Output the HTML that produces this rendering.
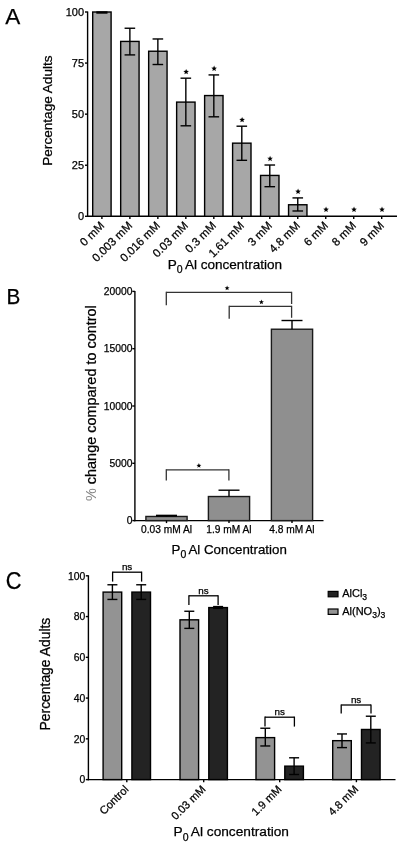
<!DOCTYPE html>
<html><head><meta charset="utf-8"><style>
html,body{margin:0;padding:0;background:#fff;}
svg{display:block;filter:grayscale(0);}
text{font-family:"Liberation Sans", sans-serif;fill:#000;stroke:#000;stroke-width:0.25px;}
</style></head><body>
<svg width="400" height="847" viewBox="0 0 400 847">
<rect width="400" height="847" fill="#fff"/>
<text x="5.30" y="24.30" font-size="22.5" text-anchor="start" >A</text>
<line x1="87.60" y1="11.50" x2="87.60" y2="217.00" stroke="#000" stroke-width="1.4"/>
<line x1="85.00" y1="216.30" x2="87.60" y2="216.30" stroke="#000" stroke-width="1.4"/>
<text x="84.10" y="220.10" font-size="11" text-anchor="end" >0</text>
<line x1="85.00" y1="165.23" x2="87.60" y2="165.23" stroke="#000" stroke-width="1.4"/>
<text x="84.10" y="169.03" font-size="11" text-anchor="end" >25</text>
<line x1="85.00" y1="114.15" x2="87.60" y2="114.15" stroke="#000" stroke-width="1.4"/>
<text x="84.10" y="117.95" font-size="11" text-anchor="end" >50</text>
<line x1="85.00" y1="63.07" x2="87.60" y2="63.07" stroke="#000" stroke-width="1.4"/>
<text x="84.10" y="66.87" font-size="11" text-anchor="end" >75</text>
<line x1="85.00" y1="12.00" x2="87.60" y2="12.00" stroke="#000" stroke-width="1.4"/>
<text x="84.10" y="15.80" font-size="11" text-anchor="end" >100</text>
<line x1="86.90" y1="216.30" x2="397.00" y2="216.30" stroke="#000" stroke-width="1.4"/>
<rect x="92.70" y="12.00" width="18.40" height="204.30" fill="#a7a7a7" stroke="#000" stroke-width="1.4"/>
<line x1="96.30" y1="12.50" x2="107.50" y2="12.50" stroke="#000" stroke-width="2.4"/>
<line x1="101.90" y1="216.30" x2="101.90" y2="219.10" stroke="#000" stroke-width="1.4"/>
<text transform="translate(102.10,223.50) rotate(-45)" font-size="11.5" text-anchor="end" dominant-baseline="central">0 mM</text>
<rect x="120.68" y="41.42" width="18.40" height="174.88" fill="#a7a7a7" stroke="#000" stroke-width="1.4"/>
<line x1="129.88" y1="28.24" x2="129.88" y2="54.90" stroke="#000" stroke-width="1.4"/>
<line x1="124.58" y1="28.24" x2="135.18" y2="28.24" stroke="#000" stroke-width="1.4"/>
<line x1="124.58" y1="54.90" x2="135.18" y2="54.90" stroke="#000" stroke-width="1.4"/>
<line x1="129.88" y1="216.30" x2="129.88" y2="219.10" stroke="#000" stroke-width="1.4"/>
<text transform="translate(130.08,223.50) rotate(-45)" font-size="11.5" text-anchor="end" dominant-baseline="central">0.003 mM</text>
<rect x="148.66" y="51.23" width="18.40" height="165.07" fill="#a7a7a7" stroke="#000" stroke-width="1.4"/>
<line x1="157.86" y1="38.97" x2="157.86" y2="64.51" stroke="#000" stroke-width="1.4"/>
<line x1="152.56" y1="38.97" x2="163.16" y2="38.97" stroke="#000" stroke-width="1.4"/>
<line x1="152.56" y1="64.51" x2="163.16" y2="64.51" stroke="#000" stroke-width="1.4"/>
<line x1="157.86" y1="216.30" x2="157.86" y2="219.10" stroke="#000" stroke-width="1.4"/>
<text transform="translate(158.06,223.50) rotate(-45)" font-size="11.5" text-anchor="end" dominant-baseline="central">0.016 mM</text>
<rect x="176.64" y="102.10" width="18.40" height="114.20" fill="#a7a7a7" stroke="#000" stroke-width="1.4"/>
<line x1="185.84" y1="78.19" x2="185.84" y2="125.80" stroke="#000" stroke-width="1.4"/>
<line x1="180.54" y1="78.19" x2="191.14" y2="78.19" stroke="#000" stroke-width="1.4"/>
<line x1="180.54" y1="125.80" x2="191.14" y2="125.80" stroke="#000" stroke-width="1.4"/>
<line x1="185.84" y1="216.30" x2="185.84" y2="219.10" stroke="#000" stroke-width="1.4"/>
<polygon points="186.14,68.89 186.90,70.84 188.99,70.97 187.38,72.29 187.90,74.32 186.14,73.19 184.38,74.32 184.90,72.29 183.29,70.97 185.38,70.84" fill="#000"/>
<text transform="translate(186.04,223.50) rotate(-45)" font-size="11.5" text-anchor="end" dominant-baseline="central">0.03 mM</text>
<rect x="204.62" y="95.56" width="18.40" height="120.74" fill="#a7a7a7" stroke="#000" stroke-width="1.4"/>
<line x1="213.82" y1="74.92" x2="213.82" y2="116.81" stroke="#000" stroke-width="1.4"/>
<line x1="208.52" y1="74.92" x2="219.12" y2="74.92" stroke="#000" stroke-width="1.4"/>
<line x1="208.52" y1="116.81" x2="219.12" y2="116.81" stroke="#000" stroke-width="1.4"/>
<line x1="213.82" y1="216.30" x2="213.82" y2="219.10" stroke="#000" stroke-width="1.4"/>
<polygon points="214.12,65.62 214.88,67.57 216.97,67.70 215.36,69.03 215.88,71.05 214.12,69.92 212.36,71.05 212.88,69.03 211.27,67.70 213.36,67.57" fill="#000"/>
<text transform="translate(214.02,223.50) rotate(-45)" font-size="11.5" text-anchor="end" dominant-baseline="central">0.3 mM</text>
<rect x="232.60" y="143.16" width="18.40" height="73.14" fill="#a7a7a7" stroke="#000" stroke-width="1.4"/>
<line x1="241.80" y1="126.20" x2="241.80" y2="160.32" stroke="#000" stroke-width="1.4"/>
<line x1="236.50" y1="126.20" x2="247.10" y2="126.20" stroke="#000" stroke-width="1.4"/>
<line x1="236.50" y1="160.32" x2="247.10" y2="160.32" stroke="#000" stroke-width="1.4"/>
<line x1="241.80" y1="216.30" x2="241.80" y2="219.10" stroke="#000" stroke-width="1.4"/>
<polygon points="242.10,116.90 242.86,118.85 244.95,118.98 243.34,120.31 243.86,122.33 242.10,121.20 240.34,122.33 240.86,120.31 239.25,118.98 241.34,118.85" fill="#000"/>
<text transform="translate(242.00,223.50) rotate(-45)" font-size="11.5" text-anchor="end" dominant-baseline="central">1.61 mM</text>
<rect x="260.58" y="175.44" width="18.40" height="40.86" fill="#a7a7a7" stroke="#000" stroke-width="1.4"/>
<line x1="269.78" y1="165.02" x2="269.78" y2="186.68" stroke="#000" stroke-width="1.4"/>
<line x1="264.48" y1="165.02" x2="275.08" y2="165.02" stroke="#000" stroke-width="1.4"/>
<line x1="264.48" y1="186.68" x2="275.08" y2="186.68" stroke="#000" stroke-width="1.4"/>
<line x1="269.78" y1="216.30" x2="269.78" y2="219.10" stroke="#000" stroke-width="1.4"/>
<polygon points="270.08,155.72 270.84,157.67 272.93,157.79 271.32,159.12 271.84,161.15 270.08,160.02 268.32,161.15 268.84,159.12 267.23,157.79 269.32,157.67" fill="#000"/>
<text transform="translate(269.98,223.50) rotate(-45)" font-size="11.5" text-anchor="end" dominant-baseline="central">3 mM</text>
<rect x="288.56" y="204.76" width="18.40" height="11.54" fill="#a7a7a7" stroke="#000" stroke-width="1.4"/>
<line x1="297.76" y1="197.91" x2="297.76" y2="210.99" stroke="#000" stroke-width="1.4"/>
<line x1="292.46" y1="197.91" x2="303.06" y2="197.91" stroke="#000" stroke-width="1.4"/>
<line x1="292.46" y1="210.99" x2="303.06" y2="210.99" stroke="#000" stroke-width="1.4"/>
<line x1="297.76" y1="216.30" x2="297.76" y2="219.10" stroke="#000" stroke-width="1.4"/>
<polygon points="298.06,188.61 298.82,190.56 300.91,190.69 299.30,192.01 299.82,194.04 298.06,192.91 296.30,194.04 296.82,192.01 295.21,190.69 297.30,190.56" fill="#000"/>
<text transform="translate(297.96,223.50) rotate(-45)" font-size="11.5" text-anchor="end" dominant-baseline="central">4.8 mM</text>
<line x1="325.74" y1="216.30" x2="325.74" y2="219.10" stroke="#000" stroke-width="1.4"/>
<polygon points="326.04,206.60 326.80,208.55 328.89,208.67 327.28,210.00 327.80,212.03 326.04,210.90 324.28,212.03 324.80,210.00 323.19,208.67 325.28,208.55" fill="#000"/>
<text transform="translate(325.94,223.50) rotate(-45)" font-size="11.5" text-anchor="end" dominant-baseline="central">6 mM</text>
<line x1="353.72" y1="216.30" x2="353.72" y2="219.10" stroke="#000" stroke-width="1.4"/>
<polygon points="354.02,206.60 354.78,208.55 356.87,208.67 355.26,210.00 355.78,212.03 354.02,210.90 352.26,212.03 352.78,210.00 351.17,208.67 353.26,208.55" fill="#000"/>
<text transform="translate(353.92,223.50) rotate(-45)" font-size="11.5" text-anchor="end" dominant-baseline="central">8 mM</text>
<line x1="381.70" y1="216.30" x2="381.70" y2="219.10" stroke="#000" stroke-width="1.4"/>
<polygon points="382.00,206.60 382.76,208.55 384.85,208.67 383.24,210.00 383.76,212.03 382.00,210.90 380.24,212.03 380.76,210.00 379.15,208.67 381.24,208.55" fill="#000"/>
<text transform="translate(381.90,223.50) rotate(-45)" font-size="11.5" text-anchor="end" dominant-baseline="central">9 mM</text>
<text x="167.80" y="269.30" font-size="13.55" text-anchor="start" >P<tspan font-size="10.5" dy="4.1">0</tspan><tspan dy="-4.1" dx="-0.8"> Al concentration</tspan></text>
<text transform="translate(52.0,110.6) rotate(-90)" font-size="13.6" text-anchor="middle">Percentage Adults</text>
<text x="6.40" y="303.60" font-size="22.5" text-anchor="start" textLength="13.8" lengthAdjust="spacingAndGlyphs">B</text>
<line x1="134.90" y1="290.90" x2="134.90" y2="521.30" stroke="#000" stroke-width="1.4"/>
<line x1="132.30" y1="520.60" x2="134.90" y2="520.60" stroke="#000" stroke-width="1.4"/>
<text x="132.40" y="524.10" font-size="10.3" text-anchor="end" >0</text>
<line x1="132.30" y1="463.30" x2="134.90" y2="463.30" stroke="#000" stroke-width="1.4"/>
<text x="132.40" y="466.80" font-size="10.3" text-anchor="end" >5000</text>
<line x1="132.30" y1="406.00" x2="134.90" y2="406.00" stroke="#000" stroke-width="1.4"/>
<text x="132.40" y="409.50" font-size="10.3" text-anchor="end" >10000</text>
<line x1="132.30" y1="348.70" x2="134.90" y2="348.70" stroke="#000" stroke-width="1.4"/>
<text x="132.40" y="352.20" font-size="10.3" text-anchor="end" >15000</text>
<line x1="132.30" y1="291.40" x2="134.90" y2="291.40" stroke="#000" stroke-width="1.4"/>
<text x="132.40" y="294.90" font-size="10.3" text-anchor="end" >20000</text>
<line x1="134.20" y1="520.60" x2="323.50" y2="520.60" stroke="#000" stroke-width="1.4"/>
<rect x="145.90" y="516.47" width="41.20" height="4.13" fill="#8f8f8f" stroke="#1a1a1a" stroke-width="1.4"/>
<line x1="166.50" y1="515.67" x2="166.50" y2="516.47" stroke="#000" stroke-width="1.4"/>
<line x1="156.00" y1="515.67" x2="177.00" y2="515.67" stroke="#000" stroke-width="2.0"/>
<line x1="166.50" y1="520.60" x2="166.50" y2="523.10" stroke="#000" stroke-width="1.4"/>
<text x="166.50" y="533.00" font-size="10.2" text-anchor="middle" >0.03 mM Al</text>
<rect x="208.40" y="496.53" width="41.20" height="24.07" fill="#8f8f8f" stroke="#1a1a1a" stroke-width="1.4"/>
<line x1="229.00" y1="490.20" x2="229.00" y2="496.53" stroke="#000" stroke-width="1.4"/>
<line x1="218.50" y1="490.20" x2="239.50" y2="490.20" stroke="#000" stroke-width="1.4"/>
<line x1="229.00" y1="520.60" x2="229.00" y2="523.10" stroke="#000" stroke-width="1.4"/>
<text x="229.00" y="533.00" font-size="10.2" text-anchor="middle" >1.9 mM Al</text>
<rect x="271.40" y="329.22" width="41.20" height="191.38" fill="#8f8f8f" stroke="#1a1a1a" stroke-width="1.4"/>
<line x1="292.00" y1="320.51" x2="292.00" y2="329.22" stroke="#000" stroke-width="1.4"/>
<line x1="281.50" y1="320.51" x2="302.50" y2="320.51" stroke="#000" stroke-width="1.4"/>
<line x1="292.00" y1="520.60" x2="292.00" y2="523.10" stroke="#000" stroke-width="1.4"/>
<text x="292.00" y="533.00" font-size="10.2" text-anchor="middle" >4.8 mM Al</text>
<line x1="166.30" y1="292.40" x2="291.60" y2="292.40" stroke="#333" stroke-width="1.3"/>
<line x1="166.30" y1="291.80" x2="166.30" y2="305.20" stroke="#333" stroke-width="1.3"/>
<line x1="291.60" y1="291.80" x2="291.60" y2="304.00" stroke="#333" stroke-width="1.3"/>
<line x1="229.20" y1="306.40" x2="291.60" y2="306.40" stroke="#333" stroke-width="1.3"/>
<line x1="229.20" y1="305.80" x2="229.20" y2="318.70" stroke="#333" stroke-width="1.3"/>
<line x1="291.60" y1="305.80" x2="291.60" y2="317.80" stroke="#333" stroke-width="1.3"/>
<line x1="166.30" y1="469.80" x2="228.90" y2="469.80" stroke="#333" stroke-width="1.3"/>
<line x1="166.30" y1="469.20" x2="166.30" y2="480.40" stroke="#333" stroke-width="1.3"/>
<line x1="228.90" y1="469.20" x2="228.90" y2="480.40" stroke="#333" stroke-width="1.3"/>
<polygon points="227.10,285.60 227.75,287.31 229.57,287.40 228.15,288.54 228.63,290.30 227.10,289.30 225.57,290.30 226.05,288.54 224.63,287.40 226.45,287.31" fill="#000"/>
<polygon points="261.40,299.50 262.05,301.21 263.87,301.30 262.45,302.44 262.93,304.20 261.40,303.20 259.87,304.20 260.35,302.44 258.93,301.30 260.75,301.21" fill="#000"/>
<polygon points="198.90,463.10 199.55,464.81 201.37,464.90 199.95,466.04 200.43,467.80 198.90,466.80 197.37,467.80 197.85,466.04 196.43,464.90 198.25,464.81" fill="#000"/>
<text x="171.60" y="553.80" font-size="13.3" text-anchor="start" >P<tspan font-size="10.5" dy="4.1">0</tspan><tspan dy="-4.1" dx="-0.8"> Al Concentration</tspan></text>
<text transform="translate(96.3,403.1) rotate(-90)" font-size="14.45" text-anchor="middle"><tspan fill="#888" stroke="none">%</tspan> change compared to control</text>
<text x="5.80" y="588.50" font-size="23.5" text-anchor="start" textLength="15.7" lengthAdjust="spacingAndGlyphs">C</text>
<line x1="88.40" y1="575.30" x2="88.40" y2="780.30" stroke="#000" stroke-width="1.4"/>
<line x1="85.80" y1="779.60" x2="88.40" y2="779.60" stroke="#000" stroke-width="1.4"/>
<text x="85.40" y="783.30" font-size="10.4" text-anchor="end" >0</text>
<line x1="85.80" y1="738.84" x2="88.40" y2="738.84" stroke="#000" stroke-width="1.4"/>
<text x="85.40" y="742.54" font-size="10.4" text-anchor="end" >20</text>
<line x1="85.80" y1="698.08" x2="88.40" y2="698.08" stroke="#000" stroke-width="1.4"/>
<text x="85.40" y="701.78" font-size="10.4" text-anchor="end" >40</text>
<line x1="85.80" y1="657.32" x2="88.40" y2="657.32" stroke="#000" stroke-width="1.4"/>
<text x="85.40" y="661.02" font-size="10.4" text-anchor="end" >60</text>
<line x1="85.80" y1="616.56" x2="88.40" y2="616.56" stroke="#000" stroke-width="1.4"/>
<text x="85.40" y="620.26" font-size="10.4" text-anchor="end" >80</text>
<line x1="85.80" y1="575.80" x2="88.40" y2="575.80" stroke="#000" stroke-width="1.4"/>
<text x="85.40" y="579.50" font-size="10.4" text-anchor="end" >100</text>
<line x1="87.70" y1="779.60" x2="395.50" y2="779.60" stroke="#000" stroke-width="1.4"/>
<rect x="103.10" y="592.10" width="18.60" height="187.50" fill="#939393" stroke="#000" stroke-width="1.4"/>
<line x1="112.40" y1="584.77" x2="112.40" y2="599.44" stroke="#000" stroke-width="1.4"/>
<line x1="107.40" y1="584.77" x2="117.40" y2="584.77" stroke="#000" stroke-width="1.4"/>
<line x1="107.40" y1="599.44" x2="117.40" y2="599.44" stroke="#000" stroke-width="1.4"/>
<rect x="131.90" y="592.10" width="18.60" height="187.50" fill="#232323" stroke="#000" stroke-width="1.4"/>
<line x1="141.20" y1="584.77" x2="141.20" y2="599.44" stroke="#000" stroke-width="1.4"/>
<line x1="136.20" y1="584.77" x2="146.20" y2="584.77" stroke="#000" stroke-width="1.4"/>
<line x1="136.20" y1="599.44" x2="146.20" y2="599.44" stroke="#000" stroke-width="1.4"/>
<line x1="126.80" y1="779.60" x2="126.80" y2="782.20" stroke="#000" stroke-width="1.4"/>
<text transform="translate(126.50,787.20) rotate(-45)" font-size="11.1" text-anchor="end" dominant-baseline="central">Control</text>
<line x1="112.60" y1="572.20" x2="141.60" y2="572.20" stroke="#000" stroke-width="1.3"/>
<line x1="112.60" y1="571.60" x2="112.60" y2="581.60" stroke="#000" stroke-width="1.3"/>
<line x1="141.60" y1="571.60" x2="141.60" y2="581.60" stroke="#000" stroke-width="1.3"/>
<text x="127.10" y="570.00" font-size="9.4" text-anchor="middle" textLength="10.4" lengthAdjust="spacingAndGlyphs">ns</text>
<rect x="180.00" y="619.82" width="18.60" height="159.78" fill="#939393" stroke="#000" stroke-width="1.4"/>
<line x1="189.30" y1="611.26" x2="189.30" y2="628.38" stroke="#000" stroke-width="1.4"/>
<line x1="184.30" y1="611.26" x2="194.30" y2="611.26" stroke="#000" stroke-width="1.4"/>
<line x1="184.30" y1="628.38" x2="194.30" y2="628.38" stroke="#000" stroke-width="1.4"/>
<rect x="208.80" y="607.59" width="18.60" height="172.01" fill="#232323" stroke="#000" stroke-width="1.4"/>
<line x1="218.10" y1="606.57" x2="218.10" y2="608.41" stroke="#000" stroke-width="1.4"/>
<line x1="213.10" y1="606.57" x2="223.10" y2="606.57" stroke="#000" stroke-width="1.4"/>
<line x1="213.10" y1="608.41" x2="223.10" y2="608.41" stroke="#000" stroke-width="1.4"/>
<line x1="203.70" y1="779.60" x2="203.70" y2="782.20" stroke="#000" stroke-width="1.4"/>
<text transform="translate(203.40,787.20) rotate(-45)" font-size="11.1" text-anchor="end" dominant-baseline="central">0.03 mM</text>
<line x1="188.90" y1="595.80" x2="218.10" y2="595.80" stroke="#000" stroke-width="1.3"/>
<line x1="188.90" y1="595.20" x2="188.90" y2="605.00" stroke="#000" stroke-width="1.3"/>
<line x1="218.10" y1="595.20" x2="218.10" y2="605.00" stroke="#000" stroke-width="1.3"/>
<text x="203.50" y="593.60" font-size="9.4" text-anchor="middle" textLength="10.4" lengthAdjust="spacingAndGlyphs">ns</text>
<rect x="256.00" y="737.62" width="18.60" height="41.98" fill="#939393" stroke="#000" stroke-width="1.4"/>
<line x1="265.30" y1="728.24" x2="265.30" y2="745.97" stroke="#000" stroke-width="1.4"/>
<line x1="260.30" y1="728.24" x2="270.30" y2="728.24" stroke="#000" stroke-width="1.4"/>
<line x1="260.30" y1="745.97" x2="270.30" y2="745.97" stroke="#000" stroke-width="1.4"/>
<rect x="284.80" y="766.15" width="18.60" height="13.45" fill="#232323" stroke="#000" stroke-width="1.4"/>
<line x1="294.10" y1="757.79" x2="294.10" y2="774.50" stroke="#000" stroke-width="1.4"/>
<line x1="289.10" y1="757.79" x2="299.10" y2="757.79" stroke="#000" stroke-width="1.4"/>
<line x1="289.10" y1="774.50" x2="299.10" y2="774.50" stroke="#000" stroke-width="1.4"/>
<line x1="279.70" y1="779.60" x2="279.70" y2="782.20" stroke="#000" stroke-width="1.4"/>
<text transform="translate(279.40,787.20) rotate(-45)" font-size="11.1" text-anchor="end" dominant-baseline="central">1.9 mM</text>
<line x1="265.00" y1="717.20" x2="294.40" y2="717.20" stroke="#000" stroke-width="1.3"/>
<line x1="265.00" y1="716.60" x2="265.00" y2="726.60" stroke="#000" stroke-width="1.3"/>
<line x1="294.40" y1="716.60" x2="294.40" y2="726.60" stroke="#000" stroke-width="1.3"/>
<text x="279.70" y="715.00" font-size="9.4" text-anchor="middle" textLength="10.4" lengthAdjust="spacingAndGlyphs">ns</text>
<rect x="332.70" y="740.67" width="18.60" height="38.93" fill="#939393" stroke="#000" stroke-width="1.4"/>
<line x1="342.00" y1="733.95" x2="342.00" y2="747.60" stroke="#000" stroke-width="1.4"/>
<line x1="337.00" y1="733.95" x2="347.00" y2="733.95" stroke="#000" stroke-width="1.4"/>
<line x1="337.00" y1="747.60" x2="347.00" y2="747.60" stroke="#000" stroke-width="1.4"/>
<rect x="361.50" y="729.47" width="18.60" height="50.13" fill="#232323" stroke="#000" stroke-width="1.4"/>
<line x1="370.80" y1="716.22" x2="370.80" y2="742.92" stroke="#000" stroke-width="1.4"/>
<line x1="365.80" y1="716.22" x2="375.80" y2="716.22" stroke="#000" stroke-width="1.4"/>
<line x1="365.80" y1="742.92" x2="375.80" y2="742.92" stroke="#000" stroke-width="1.4"/>
<line x1="356.40" y1="779.60" x2="356.40" y2="782.20" stroke="#000" stroke-width="1.4"/>
<text transform="translate(356.10,787.20) rotate(-45)" font-size="11.1" text-anchor="end" dominant-baseline="central">4.8 mM</text>
<line x1="341.20" y1="705.00" x2="371.00" y2="705.00" stroke="#000" stroke-width="1.3"/>
<line x1="341.20" y1="704.40" x2="341.20" y2="713.60" stroke="#000" stroke-width="1.3"/>
<line x1="371.00" y1="704.40" x2="371.00" y2="713.60" stroke="#000" stroke-width="1.3"/>
<text x="356.10" y="702.80" font-size="9.4" text-anchor="middle" textLength="10.4" lengthAdjust="spacingAndGlyphs">ns</text>
<rect x="328.20" y="591.40" width="9.80" height="5.40" fill="#232323" stroke="#000" stroke-width="1.2"/>
<rect x="328.20" y="609.00" width="9.80" height="5.40" fill="#939393" stroke="#000" stroke-width="1.2"/>
<text x="342.20" y="596.90" font-size="11" text-anchor="start" >AlCl<tspan font-size="8.6" dy="3.4">3</tspan></text>
<text x="342.20" y="614.90" font-size="11" text-anchor="start" >Al(NO<tspan font-size="8.6" dy="3.4">3</tspan><tspan dy="-3.4">)</tspan><tspan font-size="8.6" dy="3.4">3</tspan></text>
<text x="173.60" y="836.40" font-size="13.7" text-anchor="start" >P<tspan font-size="10.5" dy="4.1">0</tspan><tspan dy="-4.1" dx="-0.8"> Al concentration</tspan></text>
<text transform="translate(49.6,674.1) rotate(-90)" font-size="13.9" text-anchor="middle">Percentage Adults</text>
</svg>
</body></html>
